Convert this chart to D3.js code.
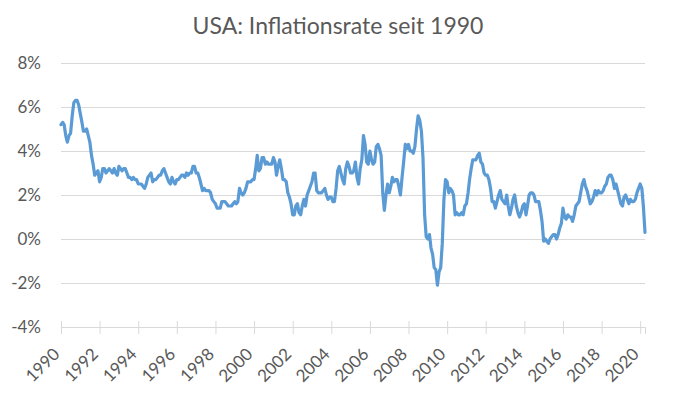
<!DOCTYPE html>
<html>
<head>
<meta charset="utf-8">
<script src="https://cdn.jsdelivr.net/npm/d3@7/dist/d3.min.js"></script>
<style>
  body { margin: 0; background: #fff; }
  text { font-family: Lato, "Open Sans", sans-serif; fill: #595959; }
</style>
</head>
<body>
<div id="chart"></div>
<script>
// US CPI, change vs. previous year in %, monthly from Jan 1990 to Apr 2020
const infl1990s = [
  5.2, 5.3, 5.2, 4.7, 4.4, 4.7, 4.8, 5.6, 6.2, 6.3, 6.3, 6.1,
  5.7, 5.3, 4.9, 4.9, 5.0, 4.7, 4.4, 3.8, 3.4, 2.9, 3.0, 3.1,
  2.6, 2.8, 3.2, 3.2, 3.0, 3.1, 3.2, 3.1, 3.0, 3.2, 3.0, 2.9,
  3.3, 3.2, 3.1, 3.2, 3.2, 3.0, 2.8, 2.8, 2.7, 2.8, 2.7, 2.7,
  2.5, 2.5, 2.5, 2.4, 2.3, 2.5, 2.8, 2.9, 3.0, 2.6, 2.7, 2.7,
  2.8, 2.9, 2.9, 3.1, 3.2, 3.0, 2.8, 2.6, 2.5, 2.8, 2.6, 2.5,
  2.7, 2.7, 2.8, 2.9, 2.9, 2.8, 3.0, 2.9, 3.0, 3.0, 3.3, 3.3,
  3.0, 3.0, 2.8, 2.5, 2.2, 2.3, 2.2, 2.2, 2.2, 2.1, 1.8, 1.7,
  1.6, 1.4, 1.4, 1.4, 1.7, 1.7, 1.7, 1.6, 1.5, 1.5, 1.5, 1.6,
  1.7, 1.6, 1.7, 2.3, 2.1, 2.0, 2.1, 2.3, 2.6, 2.6, 2.6, 2.7
];
const infl2000s = [
  2.7, 3.2, 3.8, 3.1, 3.2, 3.7, 3.7, 3.4, 3.5, 3.4, 3.4, 3.4,
  3.7, 3.5, 2.9, 3.3, 3.6, 3.2, 2.7, 2.7, 2.6, 2.1, 1.9, 1.6,
  1.1, 1.1, 1.5, 1.6, 1.2, 1.1, 1.5, 1.8, 1.5, 2.0, 2.2, 2.4,
  2.6, 3.0, 3.0, 2.2, 2.1, 2.1, 2.1, 2.2, 2.3, 2.0, 1.8, 1.9,
  1.9, 1.7, 1.7, 2.3, 3.1, 3.3, 3.0, 2.7, 2.5, 3.2, 3.5, 3.3,
  3.0, 3.0, 3.1, 3.5, 2.8, 2.5, 3.2, 3.6, 4.7, 4.3, 3.5, 3.4,
  4.0, 3.6, 3.4, 3.5, 4.2, 4.3, 4.1, 3.8, 2.1, 1.3, 2.0, 2.5,
  2.1, 2.4, 2.8, 2.6, 2.7, 2.7, 2.4, 2.0, 2.8, 3.5, 4.3, 4.1,
  4.3, 4.0, 4.0, 3.9, 4.2, 5.0, 5.6, 5.4, 4.9, 3.7, 1.1, 0.1,
  0.0, 0.2, -0.4, -0.7, -1.3, -1.4, -2.1, -1.5, -1.3, -0.2, 1.8, 2.7
];
const infl2010s = [
  2.6, 2.1, 2.3, 2.2, 2.0, 1.1, 1.2, 1.1, 1.1, 1.2, 1.1, 1.5,
  1.6, 2.1, 2.7, 3.2, 3.6, 3.6, 3.6, 3.8, 3.9, 3.5, 3.4, 3.0,
  2.9, 2.9, 2.7, 2.3, 1.7, 1.7, 1.4, 1.7, 2.0, 2.2, 1.8, 1.7,
  1.6, 2.0, 1.5, 1.1, 1.4, 1.8, 2.0, 1.5, 1.2, 1.0, 1.2, 1.5,
  1.6, 1.1, 1.5, 2.0, 2.1, 2.1, 2.0, 1.7, 1.7, 1.7, 1.3, 0.8,
  -0.1, 0.0, -0.1, -0.2, 0.0, 0.1, 0.2, 0.2, 0.0, 0.2, 0.5, 0.7,
  1.4, 1.0, 0.9, 1.1, 1.0, 1.0, 0.8, 1.1, 1.5, 1.6, 1.7, 2.1,
  2.5, 2.7, 2.4, 2.2, 1.9, 1.6, 1.7, 1.9, 2.2, 2.0, 2.2, 2.1,
  2.1, 2.2, 2.4, 2.5, 2.8, 2.9, 2.9, 2.7, 2.3, 2.5, 2.2, 1.9,
  1.6, 1.5, 1.9, 2.0, 1.8, 1.6, 1.8, 1.7, 1.7, 1.8, 2.1, 2.3
];
const infl2020 = [2.5, 2.3, 1.5, 0.3];

const startYear = 1990;
const xTickYears = d3.range(1990, 2021, 2);
const yTickValues = [-4, -2, 0, 2, 4, 6, 8];
const title = 'USA: Inflationsrate seit 1990';

const values = infl1990s.concat(infl2000s, infl2010s, infl2020);
const data = values.map((v, i) => ({ date: new Date(startYear, i, 1), value: v }));

const width = 677, height = 399;
const margin = { top: 63, right: 32, bottom: 72, left: 61 };

const svg = d3.select('#chart').append('svg')
  .attr('width', width)
  .attr('height', height);

const xScale = d3.scaleTime()
  .domain(d3.extent(data, d => d.date))
  .range([margin.left, width - margin.right]);

const yScale = d3.scaleLinear()
  .domain([-4, 8])
  .range([height - margin.bottom, margin.top]);

// title
svg.append('text')
  .attr('x', 338)
  .attr('y', 34)
  .attr('text-anchor', 'middle')
  .style('font-size', '23px')
  .text(title);

// horizontal gridlines + y labels
const yAxis = svg.append('g')
  .attr('class', 'axis axis-y')
  .attr('transform', `translate(${margin.left},0)`)
  .call(d3.axisLeft(yScale)
    .tickValues(yTickValues)
    .tickSize(-(width - margin.left - margin.right))
    .tickPadding(20)
    .tickFormat(d => d + '%'));
yAxis.select('.domain').remove();
yAxis.selectAll('line').attr('stroke', '#d9d9d9');
yAxis.selectAll('text')
  .style('font-size', '17px')
  .attr('font-family', null)
  .attr('fill', '#595959');

// x axis with crossing tick marks
const xAxis = svg.append('g')
  .attr('class', 'axis axis-x')
  .attr('transform', `translate(0,${yScale(-4)})`)
  .call(d3.axisBottom(xScale)
    .tickValues(xTickYears.map(y => new Date(y, 0, 1)))
    .tickSizeOuter(0)
    .tickSize(7)
    .tickFormat(d3.timeFormat('%Y')));
xAxis.select('.domain').attr('stroke', '#d9d9d9');
xAxis.selectAll('.tick line').attr('y1', -6).attr('stroke', '#d9d9d9');
xAxis.selectAll('text')
  .style('font-size', '17px')
  .attr('fill', '#595959')
  .attr('text-anchor', 'end')
  .attr('y', 0)
  .attr('dy', '0.35em')
  .attr('transform', 'translate(-5,24) rotate(-45)');

// inflation line
const line = d3.line()
  .x(d => xScale(d.date))
  .y(d => yScale(d.value));

svg.append('path')
  .datum(data)
  .attr('fill', 'none')
  .attr('stroke', '#5b9bd5')
  .attr('stroke-width', 3.2)
  .attr('stroke-linejoin', 'round')
  .attr('stroke-linecap', 'round')
  .attr('d', line);
</script>
</body>
</html>
